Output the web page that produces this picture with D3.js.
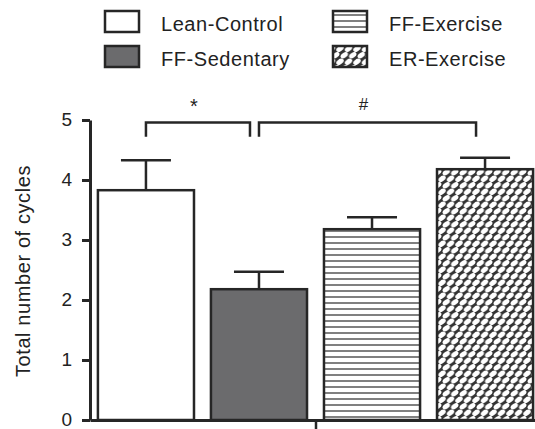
<!DOCTYPE html>
<html>
<head>
<meta charset="utf-8">
<script src="https://cdn.jsdelivr.net/npm/d3@7"></script>
<style>
  html, body { margin: 0; padding: 0; background: #fff; }
  svg { display: block; font-family: "Liberation Sans", Arial, Helvetica, sans-serif; }
</style>
</head>
<body>
<svg id="chart" width="535" height="429"></svg>
<script>
// Groups, means and upper error bar values
const groups = ["Lean-Control", "FF-Sedentary", "FF-Exercise", "ER-Exercise"];
const means = [3.83, 2.18, 3.18, 4.18];
const errUpper = [4.33, 2.47, 3.38, 4.37];
const yTicks = [0, 1, 2, 3, 4, 5];
const yLabel = "Total number of cycles";
// Significance brackets between groups
const brackets = [
  { from: 0, to: 1, label: "*" },
  { from: 1, to: 3, label: "#" }
];

const ink = "#262626";
const svg = d3.select("#chart");
const defs = svg.append("defs");

// Horizontal stripes
const hp = defs.append("pattern").attr("id", "hlines")
  .attr("patternUnits", "userSpaceOnUse").attr("width", 8).attr("height", 6);
hp.append("rect").attr("width", 8).attr("height", 6).attr("fill", "#fff");
hp.append("rect").attr("y", 2).attr("width", 8).attr("height", 2).attr("fill", "#808080");

// Woven crosshatch
const cp = defs.append("pattern").attr("id", "weave")
  .attr("patternUnits", "userSpaceOnUse").attr("width", 8.5).attr("height", 13);
cp.append("rect").attr("width", 8.5).attr("height", 13).attr("fill", "#333");
[[4.25, 3.25], [0, 9.75], [8.5, 9.75], [0, -3.25], [8.5, -3.25], [4.25, 16.25]].forEach(([cx, cy]) => {
  cp.append("ellipse").attr("cx", cx).attr("cy", cy).attr("rx", 4.1).attr("ry", 2.5)
    .attr("transform", `rotate(-35 ${cx} ${cy})`).attr("fill", "#fff");
});

const fills = ["#ffffff", "#6b6b6d", "url(#hlines)", "url(#weave)"];

const x = d3.scaleBand().domain(groups).range([90, 541])
  .paddingInner(0.15).paddingOuter(0.07);
const y = d3.scaleLinear().domain([0, 5]).range([420, 120]);

// Bars
svg.append("g").selectAll("rect").data(groups).join("rect")
  .attr("x", d => x(d))
  .attr("y", (d, i) => y(means[i]))
  .attr("width", x.bandwidth())
  .attr("height", (d, i) => y(0) - y(means[i]))
  .attr("fill", (d, i) => fills[i])
  .attr("stroke", ink).attr("stroke-width", 2.5);

// Error bars (upper only)
const eb = svg.append("g").attr("stroke", ink).attr("stroke-width", 2.5);
groups.forEach((g, i) => {
  const cx = x(g) + x.bandwidth() / 2;
  eb.append("line").attr("x1", cx).attr("x2", cx)
    .attr("y1", y(means[i])).attr("y2", y(errUpper[i]));
  eb.append("line").attr("x1", cx - 25).attr("x2", cx + 25)
    .attr("y1", y(errUpper[i])).attr("y2", y(errUpper[i]));
});

// Y axis
const yAxis = svg.append("g").attr("transform", "translate(90,0)")
  .call(d3.axisLeft(y).tickValues(yTicks).tickFormat(d3.format("d"))
    .tickSize(8).tickSizeOuter(0).tickPadding(10));
yAxis.select(".domain").attr("stroke", ink).attr("stroke-width", 3);
yAxis.selectAll(".tick line").attr("stroke", ink).attr("stroke-width", 3);
yAxis.selectAll(".tick text").attr("font-size", 19).attr("fill", "#222")
  .attr("dy", "0.3em")
  .attr("font-family", "Liberation Sans, Arial, sans-serif");

// X axis with a single centred tick
const xAxisScale = d3.scalePoint().domain([""]).range([90, 541]);
const xAxis = svg.append("g").attr("transform", "translate(0,420)")
  .call(d3.axisBottom(xAxisScale).tickSize(9).tickSizeOuter(0).tickFormat(() => ""));
xAxis.select(".domain").attr("stroke", ink).attr("stroke-width", 3);
xAxis.selectAll(".tick line").attr("stroke", ink).attr("stroke-width", 2.5);

// Y axis title
svg.append("text")
  .attr("transform", `translate(30,${(y(0) + y(5)) / 2 + 1}) rotate(-90)`)
  .attr("text-anchor", "middle")
  .attr("font-size", 20).attr("letter-spacing", 0.6).attr("fill", "#222")
  .text(yLabel);

// Significance brackets
const bTop = y(4.96), bDrop = y(4.72);
const bg = svg.append("g");
brackets.forEach(b => {
  const x1 = x(groups[b.from]) + x.bandwidth() / 2;
  const x2 = x(groups[b.to]) + x.bandwidth() / 2 - 9;
  bg.append("path")
    .attr("d", `M${x1},${bDrop}V${bTop}H${x2}V${bDrop}`)
    .attr("fill", "none").attr("stroke", ink).attr("stroke-width", 2.5);
  bg.append("text").attr("x", (x1 + x2) / 2 - 4).attr("y", b.label === "*" ? 113 : 110)
    .attr("text-anchor", "middle").attr("font-size", b.label === "*" ? 20 : 17)
    .attr("fill", "#222").text(b.label);
});

// Legend in two columns
const legendPos = [[104, 10], [104, 45], [332, 10], [332, 45]];
const lg = svg.append("g");
groups.forEach((g, i) => {
  const [lx, ly] = legendPos[i];
  lg.append("rect").attr("x", lx + 1).attr("y", ly + 1).attr("width", 34).attr("height", 21)
    .attr("fill", fills[i]).attr("stroke", ink).attr("stroke-width", 2.5);
  lg.append("text").attr("x", lx + 57).attr("y", ly + 21)
    .attr("font-size", 20).attr("letter-spacing", 0.55).attr("fill", "#222").text(g);
});
</script>
</body>
</html>
